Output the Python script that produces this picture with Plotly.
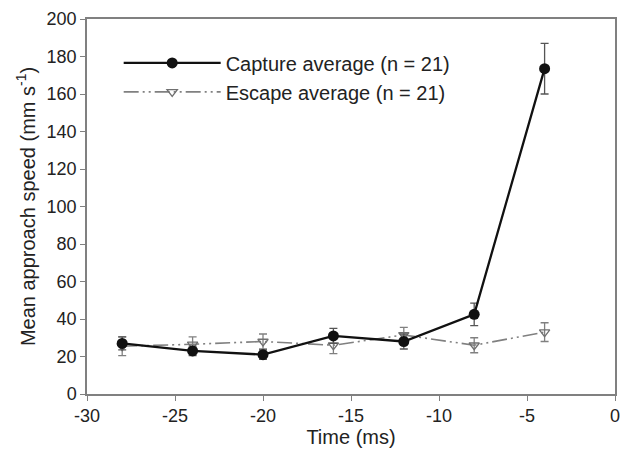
import plotly.graph_objects as go

time_ms = [-28, -24, -20, -16, -12, -8, -4]
capture_mean = [27, 23, 21, 31, 28, 42.5, 173.5]
capture_err = [3.5, 2.5, 2.5, 4, 4, 6, 13.5]
escape_mean = [25.5, 26.5, 28, 26, 31.5, 26, 33]
escape_err = [5, 4, 4, 4.5, 4, 4, 5]

x_ticks = [-30, -25, -20, -15, -10, -5, 0]
y_ticks = [0, 20, 40, 60, 80, 100, 120, 140, 160, 180, 200]

font_family = "Liberation Sans, Arial, sans-serif"

fig = go.Figure()
fig.add_trace(go.Scatter(
    x=time_ms, y=escape_mean, mode="lines+markers",
    name="Escape average (n = 21)",
    line=dict(color="#808080", width=1.6, dash="15px,4px,2px,4px,2px,4px"),
    marker=dict(symbol="triangle-down-open", size=9, color="#707070", line=dict(width=1.3)),
    error_y=dict(type="data", array=escape_err, color="#808080", thickness=1.3, width=4),
))
fig.add_trace(go.Scatter(
    x=time_ms, y=capture_mean, mode="lines+markers",
    name="Capture average (n = 21)",
    line=dict(color="#111111", width=2.3),
    marker=dict(symbol="circle", size=11, color="#111111"),
    error_y=dict(type="data", array=capture_err, color="#555555", thickness=1.3, width=4),
))

axis_common = dict(
    showline=True, linecolor="#808080", linewidth=1.5, mirror=True,
    ticks="outside", ticklen=5, tickcolor="#808080", tickwidth=1.3,
    showgrid=False, zeroline=False,
    tickfont=dict(family=font_family, size=18, color="#222222"),
)

fig.update_layout(
    width=626, height=452,
    margin=dict(l=87, r=6, t=19, b=58),
    paper_bgcolor="white", plot_bgcolor="white",
    showlegend=True,
    legend=dict(
        x=0.06, y=0.935, xanchor="left", yanchor="top",
        traceorder="reversed",
        font=dict(family=font_family, size=20, color="#222222"),
        bgcolor="rgba(0,0,0,0)", itemwidth=97, tracegroupgap=0,
    ),
    xaxis=dict(range=[-30, 0], tickvals=x_ticks, ticktext=[str(v) for v in x_ticks],
               title=dict(text="Time (ms)", font=dict(family=font_family, size=20, color="#222222"), standoff=0),
               **axis_common),
    yaxis=dict(range=[0, 200], tickvals=y_ticks,
               title=dict(text="Mean approach speed (mm s<sup>-1</sup>)", font=dict(family=font_family, size=20, color="#222222"), standoff=6),
               **axis_common),
)

fig.write_html("out.html")
